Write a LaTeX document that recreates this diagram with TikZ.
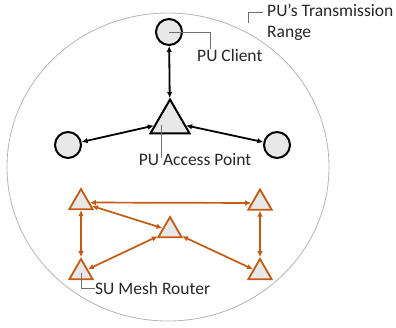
\documentclass[tikz,border=0pt]{standalone}
\usepackage{fontspec}
\setmainfont{Carlito}
\usepackage{xcolor}
\usetikzlibrary{arrows.meta}
\usetikzlibrary{shapes.geometric}
\usetikzlibrary{calc}

\definecolor{SUOrange}{RGB}{197,90,17}
\definecolor{NodeGray}{RGB}{232,232,232}
\definecolor{RangeGray}{RGB}{180,180,180}
\definecolor{LeaderGray}{RGB}{110,110,110}
\definecolor{LabelText}{RGB}{38,38,38}

\tikzset{
  pu/.style={circle, draw=black, fill=NodeGray, line width=2pt, minimum size=26pt, inner sep=0pt},
  puap/.style={regular polygon, regular polygon sides=3, draw=black, fill=NodeGray, line width=2pt, minimum size=45pt, inner sep=0pt},
  su/.style={regular polygon, regular polygon sides=3, draw=SUOrange, fill=NodeGray, line width=1.8pt, minimum size=27pt, inner sep=0pt},
  pulink/.style={{Latex[length=6pt,width=5.5pt]}-{Latex[length=6pt,width=5.5pt]}, line width=1.8pt, draw=black},
  sulink/.style={{Latex[length=6pt,width=5.5pt]}-{Latex[length=6pt,width=5.5pt]}, line width=1.7pt, draw=SUOrange},
  leader/.style={draw=LeaderGray, line width=0.8pt},
  captiontext/.style={text=LabelText, font=\fontsize{17.5}{21}\selectfont, inner sep=0pt}
}

\begin{document}
\begin{tikzpicture}[x=1pt, y=-1pt]
\useasboundingbox (0,0) rectangle (396,327);

% transmission range of the PU
\draw[RangeGray, line width=0.8pt] (168,167) ellipse [x radius=161pt, y radius=154pt];
\coordinate (rangemark) at (248,23);

% primary users
\node at (169,32)[pu] (client) {};
\node at (68,145)[pu] (peerleft) {};
\node at (277,145)[pu] (peerright) {};
\node at (170,122)[puap] (ap) {};

\draw[pulink] (client) -- (ap);
\draw[pulink] (peerleft) -- (ap);
\draw[pulink] (ap) -- (peerright);

% secondary users (mesh routers)
\node at (81,202.5)[su] (sutl) {};
\node at (260,203)[su] (sutr) {};
\node at (170,230.5)[su] (sumid) {};
\node at (81,272.5)[su] (subl) {};
\node at (260,272.5)[su] (subr) {};

\draw[sulink] (sutl) -- (sutr);
\draw[sulink] (sutl) -- (subl);
\draw[sulink] (sutr) -- (subr);
\draw[sulink] (sutl) -- (sumid);
\draw[sulink] (sumid) -- (subl);
\draw[sulink] (sumid) -- (subr);

% labels
\node at (197,55)[captiontext, anchor=west] (clienttxt) {PU Client};
\node at (195,160)[captiontext] (aptxt) {PU Access Point};
\node at (95,288)[captiontext, anchor=west] (sutxt) {SU Mesh Router};
\node at (267,4)[captiontext, anchor=north west, align=left] (rangetxt) {PU’s Transmission\\Range};

\draw[leader] (client.center) -| ([xshift=13pt]clienttxt.north west);
\draw[leader] ($(ap.center)+(-9,3)$) -- ($(ap.center |- aptxt.north)+(-9,4)$);
\draw[leader] (subl.center) |- (sutxt.west);
\draw[leader] (rangemark) |- ($(rangetxt.north west)+(-4,8)$);

\end{tikzpicture}
\end{document}
